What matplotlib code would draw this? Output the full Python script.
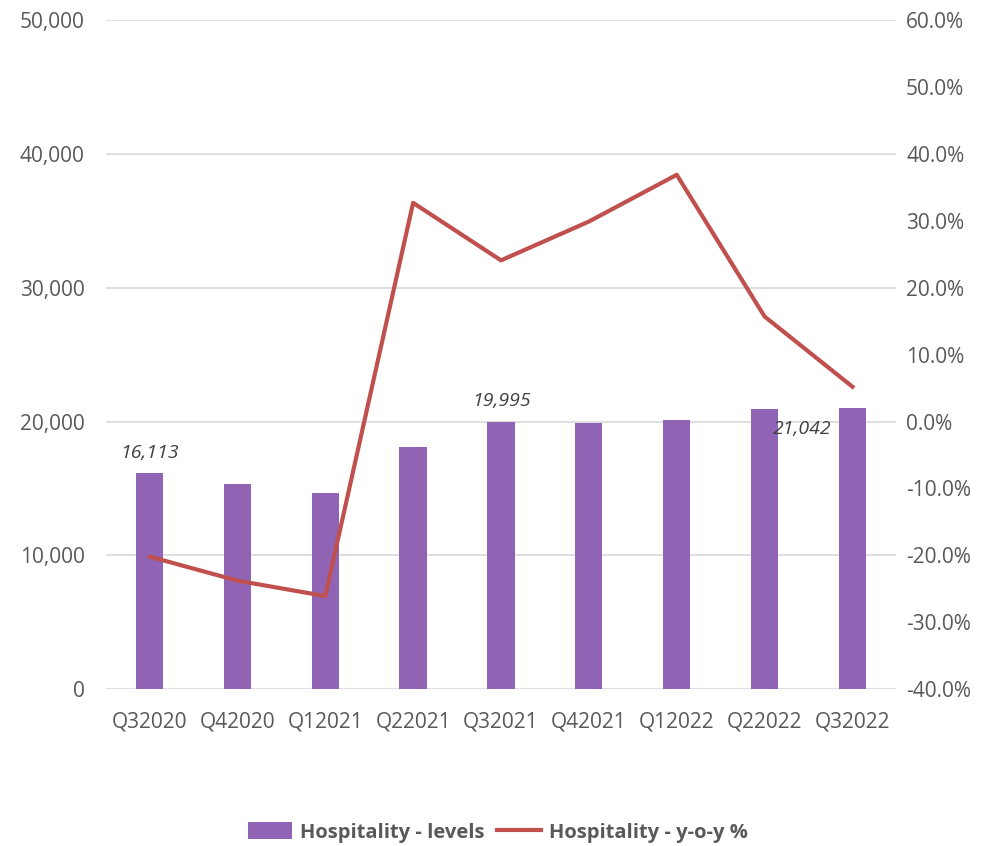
import matplotlib.pyplot as plt
import numpy as np
from matplotlib.ticker import FuncFormatter

quarters = ['Q32020', 'Q42020', 'Q12021', 'Q22021', 'Q32021',
            'Q42021', 'Q12022', 'Q22022', 'Q32022']
levels = [16113, 15300, 14650, 18100, 19995, 19900, 20150, 20930, 21042]
yoy_pct = [-20.2, -23.8, -26.1, 32.7, 24.1, 29.9, 36.9, 15.7, 5.2]

# only a few bars get a value label
label_idx = [0, 4, 8]

plt.rcParams['font.family'] = ['Open Sans', 'DejaVu Sans']
grey = '#595959'
bar_col = '#9063B4'
line_col = '#C0504D'

fig = plt.figure(figsize=(9.96, 8.46), dpi=100)
ax = fig.add_axes([0.106, 0.1856, 0.794, 0.7904])
x = np.arange(len(quarters))

ax.bar(x, levels, width=0.31, color=bar_col, zorder=2, label='Hospitality - levels')
ax.set_ylim(0, 50000)
ax.set_xlim(-0.5, len(quarters) - 0.5)
ax.set_yticks(np.arange(0, 50001, 10000))
ax.yaxis.set_major_formatter(FuncFormatter(lambda v, p: '{:,.0f}'.format(v)))
ax.set_xticks(x)
ax.set_xticklabels(quarters)
ax.grid(axis='y', color='#D9D9D9', linewidth=1.2, zorder=0)
for s in ax.spines.values():
    s.set_visible(False)
ax.tick_params(axis='both', length=0, labelsize=15, colors=grey)
ax.tick_params(axis='y', pad=15)
ax.tick_params(axis='x', pad=16)

for i in label_idx:
    dx, dy = (0, 8) if i != 8 else (-36, -22)
    ax.annotate('{:,}'.format(levels[i]), (x[i], levels[i]), xytext=(dx, dy),
                textcoords='offset points', ha='center', va='bottom',
                fontsize=14, style='italic', color='#404040', zorder=5)

ax2 = ax.twinx()
ax2.set_position(ax.get_position())
ax2.plot(x, yoy_pct, color=line_col, linewidth=3, zorder=3, label='Hospitality - y-o-y %')
ax2.set_ylim(-40, 60)
ax2.set_yticks(np.arange(-40, 61, 10))
ax2.yaxis.set_major_formatter(FuncFormatter(lambda v, p: '{:.1f}%'.format(v)))
for s in ax2.spines.values():
    s.set_visible(False)
ax2.tick_params(axis='y', length=0, labelsize=15, colors=grey, pad=7)

h1, l1 = ax.get_legend_handles_labels()
h2, l2 = ax2.get_legend_handles_labels()
leg = fig.legend(h1 + h2, l1 + l2, loc='center', bbox_to_anchor=(0.5, 0.016),
                 ncol=2, frameon=False, handlelength=2.2,
                 handleheight=0.9, columnspacing=0.6, handletextpad=0.4,
                 prop={'weight': 'bold', 'size': 14.5})
for t in leg.get_texts():
    t.set_color(grey)

fig.savefig('out.png', dpi=100)
